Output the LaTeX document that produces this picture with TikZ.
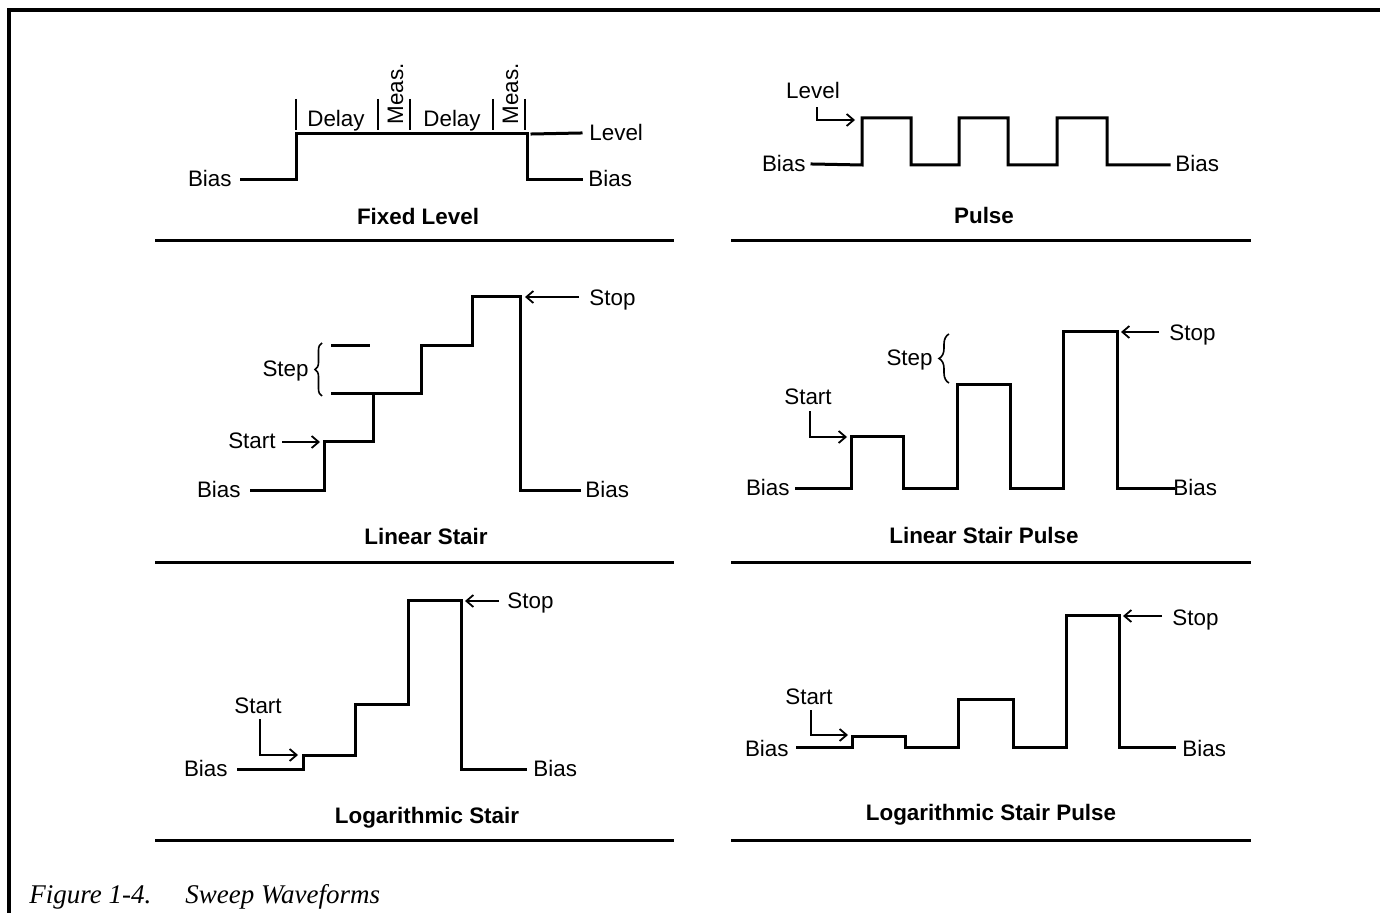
\documentclass[tikz,border=0pt]{standalone}
\usepackage{fontspec}
\setmainfont{Liberation Serif}
\newfontfamily\labfont{Liberation Sans}
\usetikzlibrary{arrows.meta,decorations.pathreplacing}
\begin{document}
\begin{tikzpicture}[x=0.5pt,y=-0.5pt,
  wave/.style={line width=1.5pt,line join=miter,line cap=rect},
  sepline/.style={line width=1.5pt},
  tick/.style={line width=1.1pt},
  arr/.style={line width=0.9pt,-{Straight Barb[length=3.5pt,width=6pt]}},
  lbl/.style={font=\labfont\fontsize{11.2}{13}\selectfont,inner sep=0pt,text height=8pt,text depth=0pt},
  ttl/.style={font=\labfont\bfseries\fontsize{11.2}{13}\selectfont,inner sep=0pt,text height=8pt,text depth=0pt},
  bracestyle/.style={line width=0.8pt,decorate,decoration={brace,amplitude=#1}}]
\useasboundingbox (0,0) rectangle (1380,913);
% frame
\draw[line width=2pt] (9,913) -- (9,10) -- (1380,10);
\node[font=\itshape\fontsize{13.5}{16}\selectfont,inner sep=0pt,anchor=base west] (cap1) at (29,903) {Figure 1-4.};
\node[font=\itshape\fontsize{13.5}{16}\selectfont,inner sep=0pt,anchor=base west] (cap2) at (185,903) {Sweep Waveforms};

% ---------- Fixed Level ----------
\node[lbl,anchor=east] (fl-b1) at (232,179) {Bias};
\node[lbl,anchor=west] (fl-b2) at (588,179) {Bias};
\node[lbl,anchor=west] (fl-lv) at (589,133) {Level};
\coordinate (fl-s) at (241,180);
\coordinate (fl-e) at (581,180);
\draw[wave] (fl-s) -- (296,180) -- (296,134) -- (527,134) -- (527,180) -- (fl-e);
\coordinate (fl-ls) at (532,134);
\draw[wave] (fl-ls) -- ([xshift=-4pt]fl-lv.west);
\foreach \x in {296,378,410,493,525} \draw[tick] (\x,99) -- (\x,130);
\node[lbl,anchor=center] (fl-d1) at (336,119) {Delay};
\node[lbl,anchor=center] (fl-d2) at (452,119) {Delay};
\node[lbl,anchor=center,rotate=90] (fl-m1) at (395,94) {Meas.};
\node[lbl,anchor=center,rotate=90] (fl-m2) at (510,94) {Meas.};
\node[ttl] (fl-t) at (418,217) {Fixed Level};
\draw[sepline] (155,241) -- (674,241);

% ---------- Pulse ----------
\node[lbl,anchor=center] (pl-lv) at (813,91) {Level};
\coordinate (pl-lvtip) at (855,120);
\draw[arr] ([xshift=2pt,yshift=-4pt]pl-lv.south) |- (pl-lvtip);
\node[lbl,anchor=east] (pl-b1) at (806,164) {Bias};
\node[lbl,anchor=west] (pl-b2) at (1175,164) {Bias};
\draw[wave] ([xshift=3pt]pl-b1.east) -- (862,165) -- (862,118) -- (911,118) -- (911,165) -- (959,165) -- (959,118)
  -- (1008,118) -- (1008,165) -- (1057,165) -- (1057,118) -- (1107,118) -- (1107,165) -- ([xshift=-3pt]pl-b2.west |- 0,165);
\node[ttl] (pl-t) at (984,216) {Pulse};
\draw[sepline] (731,241) -- (1251,241);

% ---------- Linear Stair ----------
\node[lbl,anchor=east] (ls-b1) at (241,490) {Bias};
\node[lbl,anchor=west] (ls-b2) at (585,490) {Bias};
\draw[wave] ([xshift=5pt]ls-b1.east |- 0,491) -- (324,491) -- (324,442) -- (373,442) -- (373,394) -- (421,394) -- (421,346)
  -- (472,346) -- (472,297) -- (520,297) -- (520,491) -- ([xshift=-3pt]ls-b2.west |- 0,491);
\node[lbl,anchor=west] (ls-stop) at (589,298) {Stop};
\coordinate (ls-stoptip) at (525,297);
\draw[arr] ([xshift=-5pt]ls-stop.west |- 0,297) -- (ls-stoptip);
\node[lbl,anchor=east] (ls-start) at (276,441) {Start};
\coordinate (ls-starttip) at (320,442);
\draw[arr] ([xshift=3pt]ls-start.east |- 0,442) -- (ls-starttip);
\node[lbl,anchor=east] (ls-step) at (309,369) {Step};
\draw[bracestyle=3.5pt] (322,396) -- (322,343);
\coordinate (ls-st1) at (332,346);
\coordinate (ls-st2) at (332,394);
\draw[wave] (ls-st1) -- (368,346);
\draw[wave] (ls-st2) -- (373,394);
\node[ttl] (ls-t) at (426,537) {Linear Stair};
\draw[sepline] (155,563) -- (674,563);

% ---------- Linear Stair Pulse ----------
\node[lbl,anchor=east] (lp-b1) at (790,488) {Bias};
\node[lbl,anchor=west] (lp-b2) at (1173,488) {Bias};
\draw[wave] ([xshift=3pt]lp-b1.east |- 0,489) -- (851,489) -- (851,437) -- (903,437) -- (903,489) -- (957,489) -- (957,385)
  -- (1010,385) -- (1010,489) -- (1063,489) -- (1063,332) -- (1117,332) -- (1117,489) -- (lp-b2.west |- 0,489);
\node[lbl,anchor=west] (lp-stop) at (1169,333) {Stop};
\coordinate (lp-stoptip) at (1121,332);
\draw[arr] ([xshift=-5pt]lp-stop.west |- 0,332) -- (lp-stoptip);
\node[lbl,anchor=east] (lp-step) at (933,358) {Step};
\draw[bracestyle=5pt] (949,383) -- (949,334);
\node[lbl,anchor=center] (lp-start) at (808,397) {Start};
\coordinate (lp-starttip) at (847,437);
\draw[arr] ([xshift=1pt,yshift=-3pt]lp-start.south) |- (lp-starttip);
\node[ttl] (lp-t) at (984,536) {Linear Stair Pulse};
\draw[sepline] (731,563) -- (1251,563);

% ---------- Logarithmic Stair ----------
\node[lbl,anchor=east] (gs-b1) at (228,768) {Bias};
\node[lbl,anchor=west] (gs-b2) at (533,768) {Bias};
\draw[wave] ([xshift=5pt]gs-b1.east |- 0,769) -- (303,769) -- (303,755) -- (355,755) -- (355,704) -- (408,704) -- (408,601)
  -- (461,601) -- (461,769) -- ([xshift=-4pt]gs-b2.west |- 0,769);
\node[lbl,anchor=west] (gs-stop) at (507,601) {Stop};
\coordinate (gs-stoptip) at (465,601);
\draw[arr] ([xshift=-4pt]gs-stop.west) -- (gs-stoptip);
\node[lbl,anchor=center] (gs-start) at (258,705) {Start};
\coordinate (gs-starttip) at (298,755);
\draw[arr] ([xshift=1pt,yshift=-3pt]gs-start.south) |- (gs-starttip);
\node[ttl] (gs-t) at (427,815) {Logarithmic Stair};
\draw[sepline] (155,840) -- (674,840);

% ---------- Logarithmic Stair Pulse ----------
\node[lbl,anchor=east] (gp-b1) at (789,748) {Bias};
\node[lbl,anchor=west] (gp-b2) at (1182,748) {Bias};
\draw[wave] ([xshift=4pt]gp-b1.east |- 0,747) -- (852,747) -- (852,736) -- (905,736) -- (905,747) -- (958,747) -- (958,699)
  -- (1013,699) -- (1013,747) -- (1066,747) -- (1066,616) -- (1119,616) -- (1119,747) -- ([xshift=-4pt]gp-b2.west |- 0,747);
\node[lbl,anchor=west] (gp-stop) at (1172,617) {Stop};
\coordinate (gp-stoptip) at (1123,616);
\draw[arr] ([xshift=-5pt]gp-stop.west |- 0,616) -- (gp-stoptip);
\node[lbl,anchor=center] (gp-start) at (809,696) {Start};
\coordinate (gp-starttip) at (848,735);
\draw[arr] ([xshift=1pt,yshift=-3pt]gp-start.south) |- (gp-starttip);
\node[ttl] (gp-t) at (991,812) {Logarithmic Stair Pulse};
\draw[sepline] (731,840) -- (1251,840);
\end{tikzpicture}
\end{document}
